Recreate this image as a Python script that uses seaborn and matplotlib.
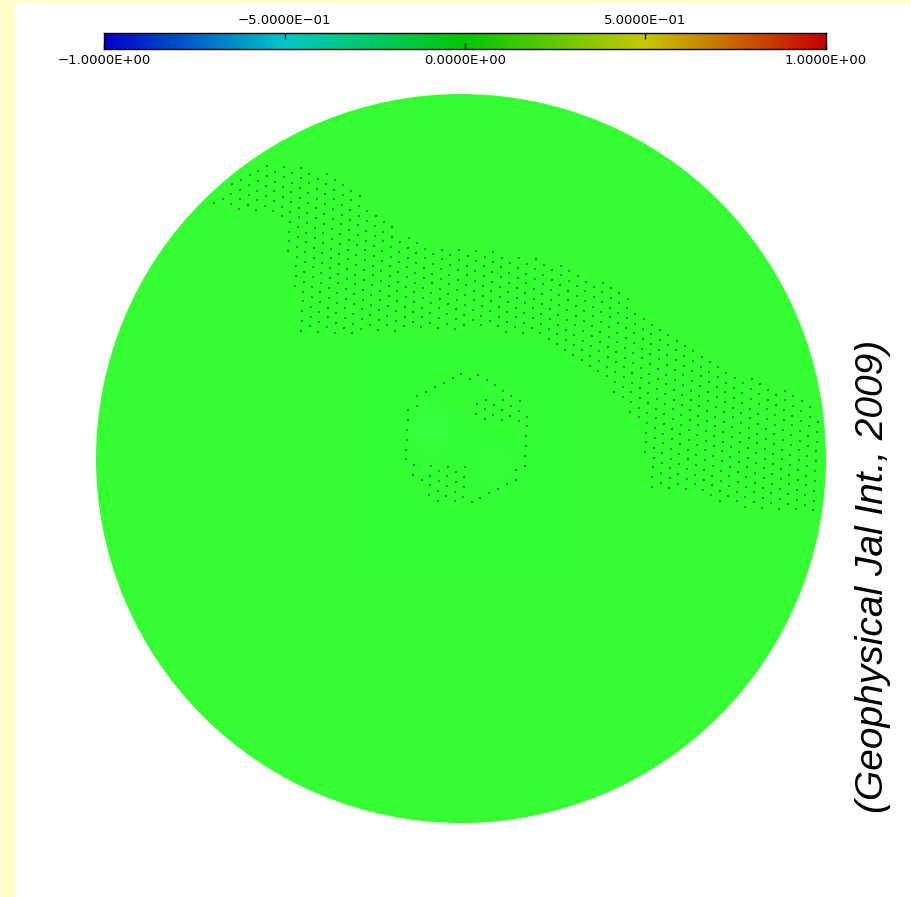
import numpy as np
import matplotlib
matplotlib.use("Agg")
import matplotlib.pyplot as plt
import seaborn as sns
from matplotlib.colors import LinearSegmentedColormap, Normalize
from matplotlib.patches import Circle, Rectangle
from matplotlib.path import Path

sns.set_theme(style="white")
plt.rcParams["font.family"] = ["DejaVu Sans"]

# ---- colour scale -------------------------------------------------------
scale_min, scale_max = -1.0, 1.0
scale_stops = [-1.0, -0.5, 0.0, 0.5, 1.0]
scale_rgb = [(0, 0, 200), (0, 200, 200), (0, 200, 0), (200, 200, 0), (200, 0, 0)]
bottom_ticks = [-1.0, 0.0, 1.0]
bottom_labels = ["\u22121.0000E+00", "0.0000E+00", "1.0000E+00"]
top_ticks = [-0.5, 0.5]
top_labels = ["\u22125.0000E\u221201", "5.0000E\u221201"]

# ---- field on the disc (unit-radius coordinates) -------------------------
base_value = 0.0
# small anomaly patch around the centre, x and y from -0.3 to 0.3
patch_extent = (-0.3, 0.3, -0.3, 0.3)
patch_values = np.array([
    [0.00, 0.00, 0.00, 0.00, 0.00, 0.00, 0.00],
    [0.00, 0.00, -0.02, 0.00, 0.00, 0.00, 0.00],
    [0.00, -0.01, -0.04, -0.01, 0.00, 0.00, 0.00],
    [0.00, 0.00, -0.02, 0.00, -0.04, -0.01, 0.00],
    [0.00, 0.00, 0.00, 0.00, -0.02, 0.00, 0.00],
    [0.00, 0.00, 0.00, 0.00, 0.00, 0.00, 0.00],
    [0.00, 0.00, 0.00, 0.00, 0.00, 0.00, 0.00],
])

# mesh-node region: band crossing the upper half of the disc
band_x = [-0.740, -0.551, -0.359, -0.277, -0.167, -0.030, 0.216, 0.408, 0.600,
          0.764, 0.929, 1.011, 1.011, 0.819, 0.655, 0.518, 0.490, 0.381, 0.216,
          0.052, -0.140, -0.332, -0.441, -0.463, -0.496, -0.605, -0.740]
band_y = [0.805, 0.813, 0.786, 0.723, 0.614, 0.573, 0.559, 0.477, 0.326,
          0.229, 0.182, 0.119, -0.155, -0.147, -0.100, -0.081, 0.092, 0.229,
          0.339, 0.353, 0.353, 0.339, 0.339, 0.517, 0.668, 0.682, 0.700]
# ring of nodes around the centre and two small clusters inside it
ring_center = (0.016, 0.059)
ring_radius = 0.17
cluster_a_x = [-0.10, 0.02, 0.02, -0.10]
cluster_a_y = [-0.01, -0.01, -0.12, -0.12]
cluster_b_x = [0.03, 0.16, 0.16, 0.03]
cluster_b_y = [0.17, 0.17, 0.10, 0.10]
node_spacing = 0.027
lattice_angle = np.deg2rad(27)

source_note = "(Geophysical Jal Int., 2009)"

# ---- colormaps ----------------------------------------------------------
stops01 = [(s - scale_min) / (scale_max - scale_min) for s in scale_stops]
bar_cmap = LinearSegmentedColormap.from_list(
    "bar", list(zip(stops01, [tuple(c / 255 for c in rgb) for rgb in scale_rgb])))
# the shaded surface is rendered brighter than the legend bar
disk_cmap = LinearSegmentedColormap.from_list(
    "disk", list(zip(stops01, [tuple(min(1.0, 0.2 + c / 255 * 0.8 / 0.784) for c in rgb)
                               for rgb in scale_rgb])))
norm = Normalize(scale_min, scale_max)

W, H = 912, 897
fig = plt.figure(figsize=(W / 100, H / 100), dpi=100)
fig.patch.set_facecolor("white")
fig.add_artist(Rectangle((0, 0), 15 / W, 1, transform=fig.transFigure,
                         facecolor="#ffffcc", edgecolor="none", zorder=0))
fig.add_artist(Rectangle((0, 1 - 3 / H), 1, 3 / H, transform=fig.transFigure,
                         facecolor="#ffffcc", edgecolor="none", zorder=0))

# ---- disc ---------------------------------------------------------------
ax = fig.add_axes([96 / W, 1 - 823 / H, 730 / W, 729 / H])
ax.set_xlim(-1, 1)
ax.set_ylim(-1, 1)
ax.axis("off")
disk = Circle((0, 0), 1.0, facecolor=disk_cmap(norm(base_value)), edgecolor="none")
ax.add_patch(disk)
im = ax.imshow(patch_values, extent=patch_extent, cmap=disk_cmap, norm=norm,
               interpolation="bicubic", aspect="auto", zorder=2)
im.set_clip_path(disk)

# mesh nodes on a tilted triangular lattice inside the marked regions
g = np.arange(-1.5, 1.5, node_spacing)
gr = np.arange(-1.5, 1.5, node_spacing * 0.866)
lu, lv = np.meshgrid(g, gr)
lu = lu + (np.arange(len(gr))[:, None] % 2) * node_spacing / 2
ca, sa = np.cos(lattice_angle), np.sin(lattice_angle)
pts = np.column_stack([(lu * ca - lv * sa).ravel(), (lu * sa + lv * ca).ravel()])
inside = Path(np.column_stack([band_x, band_y])).contains_points(pts)
inside |= Path(np.column_stack([cluster_a_x, cluster_a_y])).contains_points(pts)
inside |= Path(np.column_stack([cluster_b_x, cluster_b_y])).contains_points(pts)
rr = np.hypot(pts[:, 0] - ring_center[0], pts[:, 1] - ring_center[1])
inside |= np.abs(rr - ring_radius) < node_spacing * 0.45
inside &= np.hypot(pts[:, 0], pts[:, 1]) < 0.985
nodes = pts[inside]
sns.scatterplot(x=nodes[:, 0], y=nodes[:, 1], ax=ax, s=2.5, marker="s",
                color="#1c9a2c", linewidth=0, legend=False, zorder=3)

# ---- legend bar ---------------------------------------------------------
cax = fig.add_axes([104 / W, 1 - 49 / H, 722 / W, 16 / H])
cax.imshow(np.linspace(scale_min, scale_max, 512)[None, :], cmap=bar_cmap, norm=norm,
           extent=(scale_min, scale_max, 0, 1), aspect="auto", interpolation="bilinear")
cax.set_xlim(scale_min, scale_max)
cax.set_ylim(0, 1)
cax.set_yticks([])
cax.set_xticks(bottom_ticks)
cax.set_xticklabels(bottom_labels)
cax.tick_params(axis="x", direction="in", length=4.3, width=1, color="black",
                labelsize=9.5, pad=3.5, bottom=True, labelcolor="black")
for sp in cax.spines.values():
    sp.set_visible(True)
    sp.set_color("black")
    sp.set_linewidth(1)
top = cax.secondary_xaxis("top")
top.set_xticks(top_ticks)
top.set_xticklabels(top_labels)
top.tick_params(axis="x", direction="in", length=4.3, width=1, color="black",
                labelsize=9.5, pad=4, labelcolor="black")
top.spines["top"].set_visible(False)

# ---- source note --------------------------------------------------------
fig.text(883 / W, 1 - 576 / H, source_note, rotation=90, rotation_mode="anchor",
         ha="center", va="baseline", fontsize=28, style="italic",
         family=["Liberation Sans", "DejaVu Sans"], color="black")

fig.savefig("out.png", dpi=100, facecolor="white")
